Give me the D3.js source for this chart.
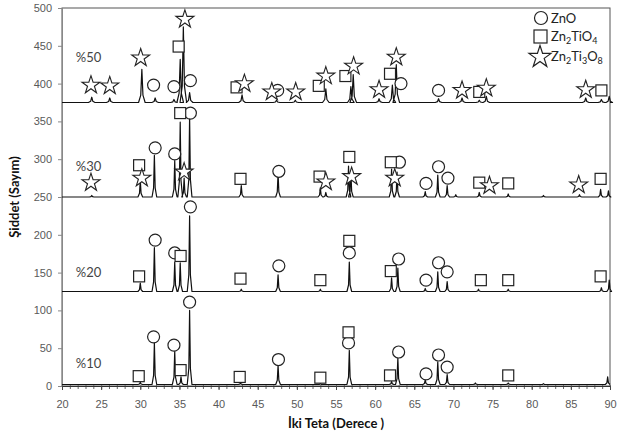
<!DOCTYPE html>
<html>
<head>
<meta charset="utf-8">
<script src="https://cdn.jsdelivr.net/npm/d3@7"></script>
<style>
  body { margin: 0; background: #fff; }
  svg { font-family: Lato, "Open Sans", sans-serif; }
</style>
</head>
<body>
<svg id="chart" width="625" height="444"></svg>
<script>
// sample labels and baselines (counts)
var samples = ["%50", "%30", "%20", "%10"];
var baselines = [375, 250, 125, 2];
var labelY = [435, 290, 150, 30];

// peaks: [2theta, top intensity]
var peaks50 = [[23.8, 382], [26.1, 381], [30.2, 419], [31.9, 381], [34.3, 379], [35.1, 432], [35.5, 475],
  [36.3, 388], [43.0, 385], [47.4, 378], [49.8, 378], [53.7, 393], [56.9, 396], [57.2, 412], [60.5, 380],
  [62.2, 398], [62.7, 425], [68.1, 380], [71.1, 381], [73.3, 378], [74.2, 383], [86.9, 381], [88.9, 379], [89.9, 383]];
var peaks30 = [[23.8, 252], [30.0, 272], [31.8, 305], [34.4, 298], [35.1, 349], [35.6, 275], [36.3, 356],
  [42.9, 265], [47.6, 281], [53.0, 262], [53.7, 256], [56.6, 291], [56.9, 284], [62.1, 287], [62.8, 283],
  [66.4, 257], [68.0, 279], [69.2, 265], [70.3, 253], [73.3, 256], [77.0, 254], [81.5, 252], [86.1, 253],
  [88.8, 260], [89.8, 258]];
var peaks20 = [[30.0, 136], [31.8, 183], [34.4, 164], [35.1, 163], [36.3, 225], [42.9, 128], [47.6, 147],
  [53.0, 128], [56.7, 164], [62.1, 143], [62.9, 156], [66.4, 129], [68.0, 151], [69.2, 138], [73.2, 128],
  [77.0, 128], [88.9, 130], [89.9, 140]];
var peaks10 = [[30.0, 5], [31.8, 57], [34.4, 46], [35.2, 12], [36.3, 100], [42.8, 4], [47.6, 27], [53.0, 3],
  [56.7, 47], [62.1, 6], [62.9, 37], [66.4, 8], [68.0, 32], [69.2, 15], [72.8, 4], [77.0, 4], [81.5, 3], [89.7, 12]];
var allPeaks = [peaks50, peaks30, peaks20, peaks10];

// phase markers: [2theta, intensity]
var zno = [[31.7, 398], [34.3, 396], [36.4, 404], [47.55, 391], [63.3, 400], [68.1, 391],
  [31.9, 315], [34.4, 307], [36.4, 361], [47.7, 284], [63.1, 296], [66.5, 268], [68.1, 290], [69.3, 275],
  [31.9, 193], [34.4, 176], [36.4, 237], [47.7, 159], [56.7, 176], [63.0, 168], [66.5, 140], [68.1, 163], [69.2, 151],
  [31.7, 65], [34.3, 54], [36.3, 111], [47.65, 35], [56.6, 57], [63.0, 45], [66.5, 16], [68.1, 41], [69.2, 25]];
var zn2tio4 = [[34.9, 449], [42.3, 395], [52.8, 397], [56.2, 410], [61.9, 413], [73.3, 389], [88.9, 391],
  [29.85, 292], [35.1, 361], [42.8, 274], [52.9, 277], [56.7, 303], [62.0, 296], [73.3, 269], [77.0, 268], [88.8, 274],
  [29.85, 145], [35.15, 172], [42.8, 142], [53.0, 140], [56.7, 192], [62.0, 152], [73.5, 140], [77.0, 140], [88.8, 145],
  [29.8, 13], [35.15, 21], [42.7, 12], [53.0, 11], [56.6, 71], [61.9, 14], [77.0, 14]];
var zn2ti3o8 = [[23.7, 398], [26.1, 397], [30.05, 434], [35.7, 485], [43.3, 400], [46.8, 389], [49.85, 389],
  [53.7, 410], [57.25, 423], [60.5, 392], [62.7, 435], [71.1, 391], [74.2, 394], [86.9, 392],
  [23.7, 269], [30.2, 275], [35.6, 283], [53.7, 270], [57.0, 277], [62.5, 275], [74.6, 265], [86.0, 266]];

var xTicks = d3.range(20, 91, 5);
var yTicks = d3.range(0, 501, 50);

var svg = d3.select("#chart");
var margin = {top: 8, right: 15, bottom: 58, left: 62};
var width = 625 - margin.left - margin.right,
    height = 444 - margin.top - margin.bottom;

var x = d3.scaleLinear().domain([20, 90]).range([0, width]);
var y = d3.scaleLinear().domain([0, 500]).range([height, 0]);

var g = svg.append("g").attr("transform", "translate(" + margin.left + "," + margin.top + ")");

// frame
g.append("rect").attr("width", width).attr("height", height)
  .attr("fill", "none").attr("stroke", "#555").attr("stroke-width", 1);

// axes
var yAxis = g.append("g").call(d3.axisLeft(y).tickValues(yTicks).tickSize(4).tickPadding(6));
yAxis.select(".domain").attr("stroke", "#888");
yAxis.selectAll(".tick line").attr("stroke", "#888");
yAxis.selectAll("text").attr("fill", "#595959").attr("font-size", 11);

var xMinor = g.append("g").attr("transform", "translate(0," + height + ")")
  .call(d3.axisBottom(x).tickValues(d3.range(20, 91, 1)).tickSize(3).tickFormat(""));
xMinor.select(".domain").remove();
xMinor.selectAll(".tick line").attr("stroke", "#666").attr("y1", -1);

var xAxis = g.append("g").attr("transform", "translate(0," + height + ")")
  .call(d3.axisBottom(x).tickValues(xTicks).tickSize(4).tickPadding(10));
xAxis.select(".domain").attr("stroke", "#333");
xAxis.selectAll(".tick line").attr("stroke", "#444");
xAxis.selectAll("text").attr("fill", "#595959").attr("font-size", 11);

// traces
var line = d3.line().x(function(d) { return x(d[0]); }).y(function(d) { return y(d[1]); });
var halfWidth = [0.42, 0.3, 0.3, 0.3];

function tracePoints(list, base, w) {
  var pts = [[20, base]];
  list.slice().sort(function(a, b) { return a[0] - b[0]; }).forEach(function(p) {
    var h = p[1] - base;
    pts.push([p[0] - w, base]);
    pts.push([p[0] - w / 3, base + h * 0.22]);
    pts.push([p[0], p[1]]);
    pts.push([p[0] + w / 3, base + h * 0.22]);
    pts.push([p[0] + w, base]);
  });
  pts.push([90, base]);
  return pts;
}

allPeaks.forEach(function(list, i) {
  g.append("path")
    .datum(tracePoints(list, baselines[i], halfWidth[i]))
    .attr("fill", "none")
    .attr("stroke", "#111")
    .attr("stroke-width", 1.2)
    .attr("stroke-linejoin", "round")
    .attr("d", line);
  g.append("text")
    .attr("x", x(23.4)).attr("y", y(labelY[i]))
    .attr("dy", "0.35em").attr("text-anchor", "middle")
    .attr("fill", "#444").attr("font-size", 13)
    .text(samples[i]);
});

// markers
var star = d3.symbol().type(d3.symbolStar).size(100);

g.append("g").selectAll("circle").data(zno).enter().append("circle")
  .attr("cx", function(d) { return x(d[0]); })
  .attr("cy", function(d) { return y(d[1]); })
  .attr("r", 6).attr("fill", "#fff").attr("stroke", "#222").attr("stroke-width", 1.2);

g.append("g").selectAll("rect").data(zn2tio4).enter().append("rect")
  .attr("x", function(d) { return x(d[0]) - 5.5; })
  .attr("y", function(d) { return y(d[1]) - 5.5; })
  .attr("width", 11).attr("height", 11)
  .attr("fill", "#fff").attr("stroke", "#222").attr("stroke-width", 1.2);

g.append("g").selectAll("path").data(zn2ti3o8).enter().append("path")
  .attr("transform", function(d) { return "translate(" + x(d[0]) + "," + y(d[1]) + ")"; })
  .attr("d", star)
  .attr("fill", "#fff").attr("stroke", "#222").attr("stroke-width", 1.1);

// legend
var lg = svg.append("g").attr("transform", "translate(541,0)");
lg.append("circle").attr("cx", 0).attr("cy", 18).attr("r", 6.5)
  .attr("fill", "#fff").attr("stroke", "#222").attr("stroke-width", 1.2);
lg.append("rect").attr("x", -7).attr("y", 30).attr("width", 13).attr("height", 13)
  .attr("fill", "#fff").attr("stroke", "#222").attr("stroke-width", 1.2);
lg.append("path").attr("transform", "translate(-1,57)").attr("d", d3.symbol().type(d3.symbolStar).size(150))
  .attr("fill", "#fff").attr("stroke", "#222").attr("stroke-width", 1.2);

var legendText = lg.append("g").attr("font-size", 13).attr("fill", "#222");
legendText.append("text").attr("x", 10).attr("y", 18).attr("dy", "0.35em").text("ZnO");
var t2 = legendText.append("text").attr("x", 10).attr("y", 36).attr("dy", "0.35em");
t2.append("tspan").text("Zn");
t2.append("tspan").attr("font-size", 9).attr("dy", 3).text("2");
t2.append("tspan").attr("dy", -3).text("TiO");
t2.append("tspan").attr("font-size", 9).attr("dy", 3).text("4");
var t3 = legendText.append("text").attr("x", 10).attr("y", 56).attr("dy", "0.35em");
t3.append("tspan").text("Zn");
t3.append("tspan").attr("font-size", 9).attr("dy", 3).text("2");
t3.append("tspan").attr("dy", -3).text("Ti");
t3.append("tspan").attr("font-size", 9).attr("dy", 3).text("3");
t3.append("tspan").attr("dy", -3).text("O");
t3.append("tspan").attr("font-size", 9).attr("dy", 3).text("8");

// axis titles
svg.append("text")
  .attr("x", margin.left + width / 2).attr("y", 428)
  .attr("text-anchor", "middle").attr("font-weight", "bold").attr("font-size", 13).attr("fill", "#111")
  .text("İki Teta (Derece )");

svg.append("text")
  .attr("transform", "translate(19," + (margin.top + height / 2) + ") rotate(-90)")
  .attr("text-anchor", "middle").attr("font-weight", "bold").attr("font-size", 13).attr("fill", "#111")
  .text("Şiddet (Sayım)");
</script>
</body>
</html>
